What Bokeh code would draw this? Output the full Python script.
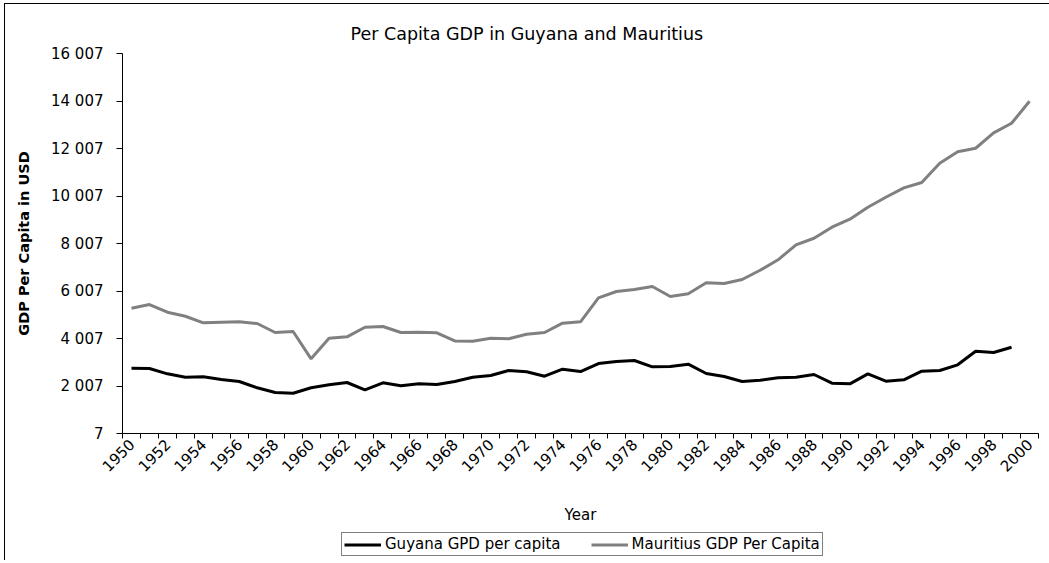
from bokeh.plotting import figure
from bokeh.models import Range1d, FixedTicker, Legend, LegendItem
from bokeh.layouts import column
from bokeh.embed import file_html
from bokeh.resources import INLINE

# ---- data ----
years = list(range(1950, 2001))
guyana = [2756, 2744, 2520, 2377, 2394, 2280, 2196, 1931, 1733, 1704,
          1931, 2057, 2154, 1847, 2141, 2015, 2099, 2070, 2200, 2377,
          2449, 2659, 2605, 2419, 2714, 2617, 2954, 3038, 3080, 2815,
          2828, 2925, 2533, 2407, 2196, 2250, 2352, 2377, 2491, 2125,
          2099, 2520, 2209, 2268, 2630, 2659, 2899, 3472, 3417, 3640]
mauritius = [5282, 5438, 5114, 4945, 4667, 4693, 4710, 4638, 4259, 4301,
             3152, 4019, 4078, 4482, 4512, 4259, 4272, 4246, 3905, 3893,
             4019, 3994, 4188, 4259, 4651, 4710, 5720, 5985, 6069, 6196,
             5775, 5888, 6351, 6322, 6490, 6880, 7320, 7951, 8229, 8692,
             9029, 9534, 9955, 10351, 10574, 11387, 11867, 12018, 12666, 13071,
             13997]
y_ticks = [7, 2007, 4007, 6007, 8007, 10007, 12007, 14007, 16007]
y_tick_labels = ["7", "2 007", "4 007", "6 007", "8 007", "10 007", "12 007", "14 007", "16 007"]
x_label_years = list(range(1950, 2001, 2))
series_names = ["Guyana GPD per capita", "Mauritius GDP Per Capita"]
series_colors = ["black", "#808080"]
title_text = "Per Capita GDP in Guyana and Mauritius"
x_title = "Year"
y_title = "GDP Per Capita in USD"

FONT = "DejaVu Sans"
W = 1044

p = figure(width=W, height=524, output_backend="svg", toolbar_location=None,
           x_range=Range1d(years[0] - 0.5, years[-1] + 0.5),
           y_range=Range1d(y_ticks[0], y_ticks[-1]),
           min_border_left=117, min_border_right=11,
           min_border_top=49, min_border_bottom=95)
p.background_fill_color = "white"
p.border_fill_color = "white"
p.outline_line_color = None
p.xgrid.visible = False
p.ygrid.visible = False

# title
p.title.text = title_text
p.title.align = "left"
p.title.offset = 228
p.title.standoff = 19
p.title.text_font = FONT
p.title.text_font_size = "17.5px"
p.title.text_font_style = "normal"
p.title.text_color = "black"

r1 = p.line(years[:len(guyana)], guyana, line_color=series_colors[0], line_width=3)
r2 = p.line(years, mauritius, line_color=series_colors[1], line_width=3)

# x axis: labels at category centres, tick marks at category boundaries
xa = p.xaxis[0]
xa.ticker = FixedTicker(ticks=x_label_years,
                        minor_ticks=[y - 0.5 for y in years] + [years[-1] + 0.5])
xa.major_label_orientation = 0.7853981633974483
xa.major_tick_out = 5
xa.major_tick_in = 0
xa.major_tick_line_color = None
xa.minor_tick_out = 5
xa.minor_tick_in = 0
xa.minor_tick_line_color = "black"
xa.axis_line_color = "black"
xa.major_label_text_font = FONT
xa.major_label_text_font_size = "15px"
xa.major_label_text_color = "black"
xa.major_label_standoff = 3
xa.axis_label = x_title
xa.axis_label_text_font = FONT
xa.axis_label_text_font_size = "15px"
xa.axis_label_text_font_style = "normal"
xa.axis_label_text_color = "black"
xa.axis_label_standoff = 26

ya = p.yaxis[0]
ya.ticker = FixedTicker(ticks=y_ticks, minor_ticks=[])
ya.major_label_overrides = {t: l for t, l in zip(y_ticks, y_tick_labels)}
ya.major_tick_out = 6
ya.major_tick_in = 0
ya.major_tick_line_color = "black"
ya.axis_line_color = "black"
ya.major_label_text_font = FONT
ya.major_label_text_font_size = "15px"
ya.major_label_text_color = "black"
ya.major_label_standoff = 13
ya.axis_label = y_title
ya.axis_label_text_font = FONT
ya.axis_label_text_font_size = "14.5px"
ya.axis_label_text_font_style = "bold"
ya.axis_label_text_color = "black"
ya.axis_label_standoff = 16

# legend strip below the chart (its series lie outside its visible range;
# they only supply the legend swatches)
pl = figure(width=W, height=32, output_backend="svg", toolbar_location=None,
            x_range=Range1d(0, 1), y_range=Range1d(0, 1),
            x_axis_type=None, y_axis_type=None,
            min_border_left=0, min_border_right=0, min_border_top=0, min_border_bottom=0)
pl.outline_line_color = None
pl.background_fill_color = "white"
pl.border_fill_color = "white"
pl.xgrid.visible = False
pl.ygrid.visible = False
k1 = pl.line(years[:len(guyana)], guyana, line_color=series_colors[0], line_width=3)
k2 = pl.line(years, mauritius, line_color=series_colors[1], line_width=3)

legend = Legend(items=[LegendItem(label=series_names[0], renderers=[k1]),
                       LegendItem(label=series_names[1], renderers=[k2])],
                orientation="horizontal", location=(219, 4),
                label_text_font=FONT, label_text_font_size="15px",
                label_text_color="black", label_height=16,
                glyph_width=37, glyph_height=15, label_standoff=4,
                spacing=30, padding=2, margin=0,
                border_line_color="black", border_line_width=1,
                background_fill_color="white", background_fill_alpha=1)
pl.add_layout(legend)

layout = column(p, pl, spacing=0)
layout.styles = {"border-left": "1px solid black", "border-top": "1px solid black",
                 "margin-left": "4px", "margin-top": "3px"}

open("out.html", "w").write(file_html(layout, INLINE))
